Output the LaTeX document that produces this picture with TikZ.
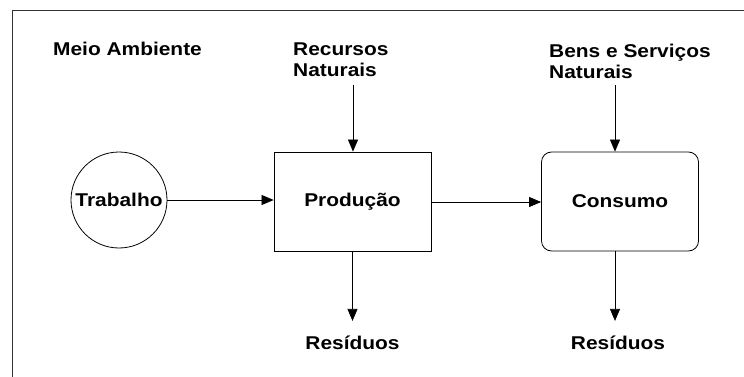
\documentclass[tikz,border=0pt]{standalone}
\usepackage{fontspec}
\setmainfont[FakeStretch=1.13]{Liberation Sans}
\usetikzlibrary{arrows.meta,positioning}

\begin{document}
\begin{tikzpicture}[x=1pt,y=-1pt,
    txt/.style={font=\fontsize{18.5}{21}\selectfont\bfseries,inner sep=0pt,align=left},
    flow/.style={-{Triangle[length=12pt,width=10pt]},line width=0.7pt},
    box/.style={draw,line width=0.8pt,minimum width=157pt,minimum height=99pt,
        font=\fontsize{18.5}{21}\selectfont\bfseries}]
\useasboundingbox (0,0) rectangle (744,377);
    %moldura
\draw[line width=0.8pt,black!80] (744,10) -- (12,10) -- (12,377);

\node[txt,anchor=west] (meio) at (53,49) {Meio Ambiente};
\node[txt,anchor=north west] (rec) at (293,43) {Recursos\\Naturais};
\node[txt,anchor=north west] (bens) at (549,44) {Bens e Serviços\\Naturais};

\node[draw,circle,line width=0.8pt,minimum size=96pt,inner sep=0pt,
    font=\fontsize{18.5}{21}\selectfont\bfseries] (trab) at (119,200) {Trabalho};
\node[box] (prod) at (352.5,201.5) {Produção};
\node[box,rounded corners=10pt] (cons) at (620,201.5) {Consumo};

\node[txt] (resP) at (352.5,343) {Resíduos};
\node[txt] (resC) at (618,343) {Resíduos};

\coordinate (recIn) at (353,85);
\coordinate (bensIn) at (615,85);

\draw[flow] (trab.east) -- (trab.east -| prod.west);
\draw[flow] (prod.east |- 0,202) -- (cons.west |- 0,202);
\draw[flow] (recIn) -- (recIn |- prod.north);
\draw[flow] (bensIn) -- (bensIn |- cons.north);
\draw[flow,shorten >=15pt] (prod.south) -- (prod.south |- resP.north);
\draw[flow,shorten >=15pt] (bensIn |- cons.south) -- (bensIn |- resC.north);
\end{tikzpicture}
\end{document}
